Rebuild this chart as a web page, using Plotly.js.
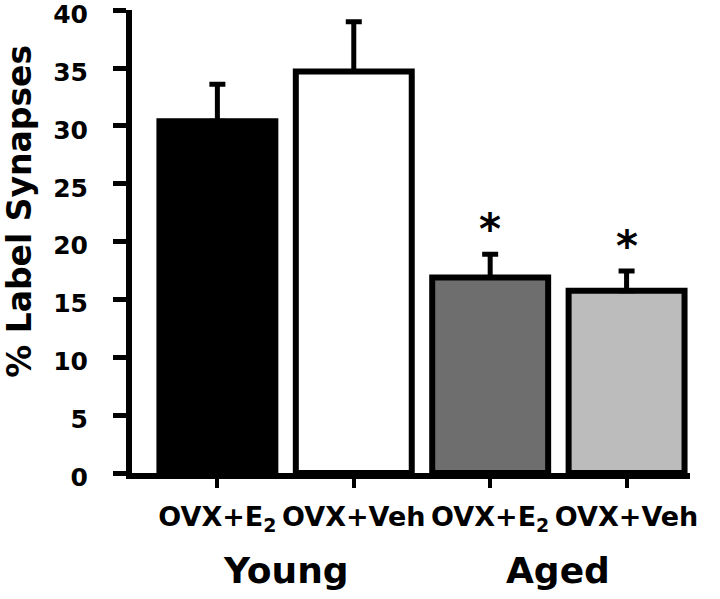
<!DOCTYPE html>
<html>
<head>
<meta charset="utf-8">
<script src="https://cdn.plot.ly/plotly-3.0.1.min.js"></script>
<style>
  html, body { margin: 0; padding: 0; background: #fff; }
  #chart { width: 720px; height: 599px; }
</style>
</head>
<body>
<div id="chart"></div>
<script>
// ---- data ----
var categories = ['Young OVX+E2', 'Young OVX+Veh', 'Aged OVX+E2', 'Aged OVX+Veh'];
var tickLabels = ['OVX+E<sub>2</sub>', 'OVX+Veh', 'OVX+E<sub>2</sub>', 'OVX+Veh'];
var labelSynapses = [30.4, 34.7, 16.9, 15.75];
var semErrors = [3.2, 4.3, 2.0, 1.7];
var significant = [false, false, true, true];
var barColors = ['#000000', '#ffffff', '#6e6e6e', '#bcbcbc'];
var groups = ['Young', 'Aged'];
var groupCenters = [0.5, 2.5];
var yTickValues = [0, 5, 10, 15, 20, 25, 30, 35, 40];

var FONT = 'DejaVu Sans, sans-serif';

var trace = {
  type: 'bar',
  x: categories,
  y: labelSynapses,
  width: 0.85,
  marker: { color: barColors, line: { color: '#000', width: 6 } },
  error_y: {
    type: 'data', symmetric: false,
    array: semErrors,
    arrayminus: semErrors.map(function () { return 0; }),
    color: '#000', thickness: 5, width: 8
  },
  hoverinfo: 'none'
};

var annotations = [];
// significance asterisks
for (var i = 0; i < categories.length; i++) {
  if (significant[i]) {
    annotations.push({
      x: categories[i], xref: 'x',
      y: labelSynapses[i] + semErrors[i] + 2.9, yref: 'y',
      text: '*', showarrow: false,
      font: { family: FONT, size: 42, color: '#000', weight: 'bold' },
      xanchor: 'center', yanchor: 'middle', yshift: -9, borderpad: 0
    });
  }
}
// group labels
for (var g = 0; g < groups.length; g++) {
  annotations.push({
    x: groupCenters[g], xref: 'x', y: 0, yref: 'paper',
    text: groups[g], showarrow: false,
    font: { family: FONT, size: 36, color: '#000', weight: 'bold' },
    xanchor: 'center', yanchor: 'top', yshift: -76, borderpad: 0
  });
}
// y axis title
annotations.push({
  x: 0, xref: 'paper', xshift: -112,
  y: 0.564, yref: 'paper',
  text: '% Label Synapses', textangle: -90, showarrow: false,
  font: { family: FONT, size: 33, color: '#000', weight: 'bold' },
  xanchor: 'center', yanchor: 'middle', borderpad: 0
});

var layout = {
  width: 720, height: 599,
  margin: { l: 131.5, r: 30, t: 10, b: 126 },
  paper_bgcolor: '#fff', plot_bgcolor: '#fff',
  showlegend: false,
  xaxis: {
    type: 'category',
    range: [-0.626, 3.465],
    tickvals: categories, ticktext: tickLabels,
    showline: true, linecolor: '#000', linewidth: 6,
    ticks: 'outside', ticklen: 9, tickwidth: 4, tickcolor: '#000',
    showgrid: false, zeroline: false,
    tickfont: { family: FONT, size: 27, color: '#000', weight: 'bold' },
    ticklabelstandoff: 6,
    ticklabeloverflow: 'allow',
    fixedrange: true
  },
  yaxis: {
    range: [0, 40.02],
    tickvals: yTickValues,
    showline: true, linecolor: '#000', linewidth: 6,
    ticks: 'outside', ticklen: 13, tickwidth: 5, tickcolor: '#000',
    showgrid: false, zeroline: false,
    tickfont: { family: FONT, size: 25, color: '#000', weight: 'bold' },
    ticklabelstandoff: 20,
    ticklabelshift: 4,
    ticklabeloverflow: 'allow',
    fixedrange: true
  },
  annotations: annotations
};

Plotly.newPlot('chart', [trace], layout, { staticPlot: true, displayModeBar: false });
</script>
</body>
</html>
